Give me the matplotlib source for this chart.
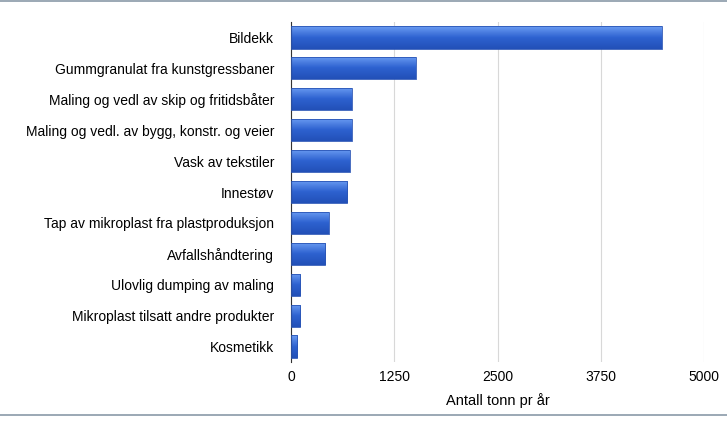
import matplotlib
matplotlib.use("Agg")
import matplotlib.pyplot as plt
import numpy as np
from matplotlib.lines import Line2D
from matplotlib.colors import LinearSegmentedColormap

categories = ["Bildekk", "Gummgranulat fra kunstgressbaner", "Maling og vedl av skip og fritidsbåter",
              "Maling og vedl. av bygg, konstr. og veier", "Vask av tekstiler", "Innestøv",
              "Tap av mikroplast fra plastproduksjon", "Avfallshåndtering", "Ulovlig dumping av maling",
              "Mikroplast tilsatt andre produkter", "Kosmetikk"]
values = [4490, 1513, 738, 738, 714, 678, 460, 412, 109, 109, 73]
ticks = [0, 1250, 2500, 3750, 5000]

plt.rcParams['font.family'] = ['Liberation Sans', 'DejaVu Sans']
fig = plt.figure(figsize=(7.27, 4.23), dpi=100)
ax = fig.add_axes([291/727, 1-362/423, 413/727, 340/423])
y = np.arange(len(categories))
bars = ax.barh(y, values, height=0.72, color='none', edgecolor='#2a55b5', linewidth=0.6, zorder=3)
grad = np.linspace(0, 1, 64).reshape(-1, 1)
cmap = LinearSegmentedColormap.from_list('g', ['#6b9cf2', '#2e62d0', '#2250b8'])
for b in bars:
    x0, y0, w, h = b.get_x(), b.get_y(), b.get_width(), b.get_height()
    im = ax.imshow(grad, extent=[x0, x0+w, y0+h, y0], aspect='auto', cmap=cmap, zorder=2)
    im.set_clip_path(b)
ax.set_xlim(0, 5000)
ax.set_ylim(len(categories)-0.5, -0.5)
ax.set_yticks(y)
ax.set_yticklabels(categories, fontsize=10)
ax.set_xticks(ticks)
ax.set_xticklabels([str(t) for t in ticks], fontsize=10)
ax.tick_params(axis='y', length=0, pad=12)
ax.tick_params(axis='x', length=0, pad=6)
ax.grid(axis='x', color='#d8d8d8', linewidth=0.8, zorder=0)
for s in ['top', 'right', 'bottom']:
    ax.spines[s].set_visible(False)
ax.spines['left'].set_color('#333333')
ax.set_xlabel("Antall tonn pr år", fontsize=10.5, labelpad=6)
fig.add_artist(Line2D([0, 1], [1-1/423, 1-1/423], color='#8a9aa8', linewidth=1.2))
fig.add_artist(Line2D([0, 1], [1-415/423, 1-415/423], color='#8a9aa8', linewidth=1.2))
fig.savefig("out.png", dpi=100)
